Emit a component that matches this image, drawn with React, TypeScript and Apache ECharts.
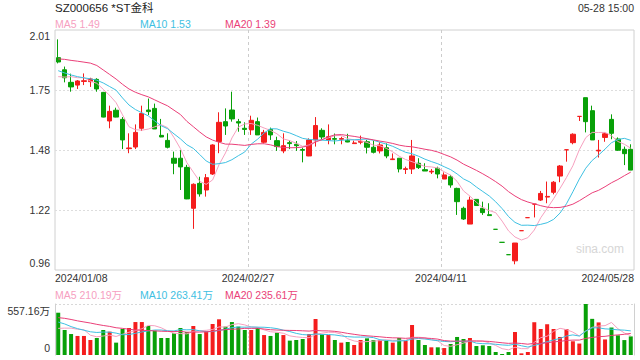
import React, { useEffect, useRef } from 'react';
import * as echarts from 'echarts';

const dates = [
  '2024/01/08','2024/01/09','2024/01/10','2024/01/11','2024/01/12','2024/01/15','2024/01/16','2024/01/17','2024/01/18','2024/01/19',
  '2024/01/22','2024/01/23','2024/01/24','2024/01/25','2024/01/26','2024/01/29','2024/01/30','2024/01/31','2024/02/01','2024/02/02',
  '2024/02/05','2024/02/06','2024/02/07','2024/02/08','2024/02/19','2024/02/20','2024/02/21','2024/02/22','2024/02/23','2024/02/26',
  '2024/02/27','2024/02/28','2024/02/29','2024/03/01','2024/03/04','2024/03/05','2024/03/06','2024/03/07','2024/03/08','2024/03/11',
  '2024/03/12','2024/03/13','2024/03/14','2024/03/15','2024/03/18','2024/03/19','2024/03/20','2024/03/21','2024/03/22','2024/03/25',
  '2024/03/26','2024/03/27','2024/03/28','2024/03/29','2024/04/01','2024/04/02','2024/04/03','2024/04/08','2024/04/09','2024/04/10',
  '2024/04/11','2024/04/12','2024/04/15','2024/04/16','2024/04/17','2024/04/18','2024/04/19','2024/04/22','2024/04/24','2024/04/25',
  '2024/04/26','2024/04/29','2024/04/30','2024/05/06','2024/05/07','2024/05/08','2024/05/09','2024/05/10','2024/05/13','2024/05/14',
  '2024/05/15','2024/05/16','2024/05/17','2024/05/20','2024/05/21','2024/05/22','2024/05/23','2024/05/24','2024/05/27','2024/05/28'
];

const opens = [
  1.889,1.836,1.781,1.769,1.785,1.784,1.794,1.737,1.612,1.659,
  1.619,1.491,1.498,1.580,1.660,1.667,1.549,1.527,1.449,1.449,
  1.409,1.230,1.339,1.310,1.380,1.522,1.609,1.660,1.609,1.580,
  1.573,1.609,1.519,1.575,1.526,1.481,1.517,1.510,1.487,1.459,
  1.529,1.571,1.529,1.535,1.532,1.527,1.513,1.519,1.521,1.497,
  1.481,1.495,1.443,1.449,1.400,1.402,1.427,1.399,1.389,1.405,
  1.358,1.368,1.317,1.230,1.161,1.269,1.230,1.202,1.138,1.081,
  1.027,1.000,1.132,1.189,1.248,1.266,1.279,1.300,1.371,1.486,
  1.517,1.632,1.714,1.657,1.481,1.540,1.619,1.533,1.488,1.488
];
const closes = [
  1.870,1.801,1.761,1.787,1.788,1.796,1.752,1.629,1.654,1.629,
  1.529,1.494,1.562,1.645,1.653,1.577,1.542,1.497,1.427,1.411,
  1.271,1.335,1.293,1.364,1.507,1.606,1.590,1.621,1.603,1.575,
  1.615,1.551,1.562,1.551,1.500,1.504,1.513,1.504,1.484,1.529,
  1.592,1.542,1.543,1.532,1.535,1.520,1.516,1.523,1.497,1.475,
  1.507,1.459,1.446,1.402,1.403,1.459,1.408,1.393,1.392,1.380,
  1.376,1.332,1.259,1.183,1.266,1.242,1.211,1.198,1.138,1.081,
  1.027,1.078,1.132,1.189,1.248,1.295,1.282,1.344,1.415,1.486,
  1.554,1.632,1.609,1.529,1.484,1.556,1.558,1.484,1.469,1.397
];
const lows = [
  1.864,1.781,1.740,1.752,1.769,1.761,1.740,1.628,1.580,1.628,
  1.489,1.471,1.489,1.568,1.638,1.577,1.541,1.492,1.379,1.310,
  1.270,1.140,1.281,1.281,1.376,1.471,1.551,1.609,1.565,1.551,
  1.551,1.551,1.514,1.529,1.481,1.471,1.489,1.481,1.431,1.458,
  1.500,1.529,1.510,1.510,1.510,1.519,1.513,1.510,1.470,1.470,
  1.470,1.449,1.441,1.387,1.380,1.380,1.402,1.393,1.380,1.361,
  1.358,1.320,1.201,1.179,1.161,1.242,1.201,1.198,1.138,1.081,
  1.027,0.985,1.132,1.189,1.190,1.262,1.252,1.291,1.344,1.434,
  1.510,1.612,1.562,1.529,1.452,1.521,1.532,1.481,1.419,1.397
];
const highs = [
  1.969,1.850,1.819,1.791,1.820,1.801,1.799,1.739,1.679,1.670,
  1.629,1.558,1.597,1.679,1.710,1.688,1.621,1.558,1.478,1.485,
  1.420,1.339,1.368,1.380,1.510,1.650,1.667,1.740,1.621,1.606,
  1.635,1.627,1.573,1.583,1.543,1.558,1.527,1.524,1.495,1.536,
  1.629,1.580,1.597,1.557,1.543,1.556,1.526,1.548,1.529,1.526,
  1.519,1.514,1.470,1.449,1.412,1.529,1.449,1.427,1.402,1.412,
  1.387,1.376,1.320,1.237,1.281,1.269,1.259,1.252,1.138,1.081,
  1.027,1.078,1.132,1.189,1.248,1.306,1.347,1.349,1.419,1.486,
  1.558,1.632,1.714,1.679,1.529,1.562,1.641,1.540,1.500,1.510
];
// volume in 万
const volumes = [
  462,273,229,208,208,164,186,273,255,135,
  284,295,360,360,317,266,186,186,237,295,
  251,317,229,258,339,390,310,360,310,273,
  273,299,218,208,244,218,157,164,175,229,
  393,229,218,164,135,142,109,164,182,164,
  164,157,135,186,157,328,164,109,84,84,
  76,120,197,175,186,98,106,98,33,11,
  33,251,18,33,358,284,336,284,197,284.09,
  150,125,557.16,395,356,170,300,215,163,202.95
];
// estimated closes / volumes of the 19 sessions before the first visible day (feed the MA lines)
const priorCloses = [1.84,1.85,1.86,1.87,1.88,1.96,2.02,2.05,2.03,1.99,1.90,1.85,1.86,1.84,1.84,1.811,1.751,1.811,1.787];
const priorVolumes = [420,480,510,450,400,470,520,460,430,420,480,520,430,380,335,260,230,270,233];

const priceTicks = ['0.96', '1.22', '1.48', '1.75', '2.01'];
const maPeriods = [5, 10, 20];
const maColors = ['#f6a0bf', '#3ec0e2', '#ea3f78'];
const RED = '#f41d1d';
const GREEN = '#08a008';
const FONT = '"Liberation Sans", Arial, "Noto Sans CJK SC", sans-serif';

function movingAverage(prior: number[], values: number[], n: number): number[] {
  const all = prior.concat(values);
  const off = prior.length;
  return values.map((_, i) => {
    const end = off + i;
    let s = 0;
    for (let k = end - n + 1; k <= end; k++) s += all[k];
    return s / n;
  });
}

export default function App() {
  const ref = useRef<HTMLDivElement>(null);
  useEffect(() => {
    const chart = echarts.init(ref.current!, null, { renderer: 'svg' });

    const signs = closes.map((c, i) =>
      c > opens[i] ? 1 : c < opens[i] ? -1 : i > 0 ? (closes[i - 1] <= c ? 1 : -1) : 1
    );
    const candleData = opens.map((o, i) => {
      const col = signs[i] > 0 ? RED : GREEN;
      return {
        value: [o, closes[i], lows[i], highs[i]],
        itemStyle: { color: col, color0: col, borderColor: col, borderColor0: col, borderColorDoji: col },
      };
    });
    const volData = volumes.map((v, i) => ({
      value: v,
      itemStyle: { color: signs[i] > 0 ? RED : GREEN },
    }));
    const priceMAs = maPeriods.map((n) => movingAverage(priorCloses, closes, n));
    const volMAs = maPeriods.map((n) => movingAverage(priorVolumes, volumes, n));

    const pMin = parseFloat(priceTicks[0]);
    const pMax = parseFloat(priceTicks[priceTicks.length - 1]);
    const pInt = (pMax - pMin) / (priceTicks.length - 1);
    const vMax = Math.max(...volumes);
    const n = dates.length;

    const labelStyle = { fontFamily: FONT, fontSize: 10.5, color: '#333' };
    const rich = {
      top: { ...labelStyle, padding: [11, 0, 0, 0] },
      bot: { ...labelStyle, padding: [0, 0, 14, 0] },
      mid: { ...labelStyle },
    };

    const legendTexts: any[] = [];
    const legendX = [55, 140, 225];
    maPeriods.forEach((p, k) => {
      const pv = priceMAs[k][n - 1];
      const vv = volMAs[k][n - 1];
      legendTexts.push({
        type: 'text', x: legendX[k], y: 24,
        style: { text: `MA${p} ${pv.toFixed(2)}`, fill: maColors[k], fontSize: 10.5, fontFamily: FONT, verticalAlign: 'middle' },
      });
      legendTexts.push({
        type: 'text', x: legendX[k], y: 294.5,
        style: { text: `MA${p} ${vv.toFixed(2)}万`, fill: maColors[k], fontSize: 10.5, fontFamily: FONT, verticalAlign: 'middle' },
      });
    });

    const option: any = {
      animation: false,
      grid: [
        { left: 55, top: 30, width: 579, height: 240, show: true, borderColor: '#d0d0d0', borderWidth: 1, backgroundColor: 'transparent' },
        { left: 55, top: 304, width: 579, height: 51 },
      ],
      xAxis: [
        { type: 'category', gridIndex: 0, position: 'top', data: dates, boundaryGap: true, show: false },
        {
          type: 'value', gridIndex: 0, position: 'bottom', min: 0, max: n, interval: 30,
          axisLine: { show: false }, axisTick: { show: false },
          splitLine: { show: true, showMinLine: false, showMaxLine: false, lineStyle: { color: '#cccccc', type: [3, 3], width: 1 } },
          axisLabel: {
            margin: 3, fontFamily: FONT, fontSize: 10.5, color: '#333',
            alignMinLabel: 'left', alignMaxLabel: 'right',
            formatter: (v: number) => dates[Math.min(Math.round(v), n - 1)],
          },
        },
        { type: 'category', gridIndex: 1, position: 'top', data: dates, boundaryGap: true, show: false },
        {
          type: 'value', gridIndex: 1, position: 'bottom', min: 0, max: n, interval: 30,
          axisLine: { show: false }, axisTick: { show: false }, axisLabel: { show: false },
          splitLine: { show: true, showMinLine: false, showMaxLine: false, lineStyle: { color: '#d8d8d8', type: [2, 2], width: 1 } },
        },
      ],
      yAxis: [
        {
          type: 'value', gridIndex: 0, min: pMin, max: pMax, interval: pInt, scale: true,
          axisLine: { show: false }, axisTick: { show: false },
          splitLine: { show: true, showMinLine: false, showMaxLine: false, lineStyle: { color: '#dddddd', type: [2, 2], width: 1 } },
          axisLabel: {
            margin: 5,
            formatter: (v: number) => {
              const idx = Math.round((v - pMin) / pInt);
              const t = priceTicks[idx] ?? '';
              return idx === priceTicks.length - 1 ? `{top|${t}}` : idx === 0 ? `{bot|${t}}` : `{mid|${t}}`;
            },
            rich,
          },
        },
        {
          type: 'value', gridIndex: 1, min: 0, max: vMax, interval: vMax,
          axisLine: { show: true, lineStyle: { color: '#d0d0d0' } }, axisTick: { show: false },
          splitLine: { show: true, showMinLine: false, lineStyle: { color: '#d8d8d8', type: [2, 2], width: 1 } },
          axisLabel: {
            margin: 5,
            formatter: (v: number) => (v === 0 ? '{bot|0}' : `{top|${v.toFixed(2)}万}`),
            rich: {
              top: { ...labelStyle, padding: [14, 0, 0, 0] },
              bot: { ...labelStyle, padding: [0, 0, 14, 0] },
            },
          },
        },
        {
          type: 'value', gridIndex: 1, position: 'right', min: 0, max: vMax, interval: vMax,
          axisLine: { show: true, lineStyle: { color: '#d0d0d0' } }, axisTick: { show: false },
          axisLabel: { show: false }, splitLine: { show: false },
        },
      ],
      series: [
        {
          type: 'candlestick', xAxisIndex: 0, yAxisIndex: 0, data: candleData, barWidth: '74%',
          itemStyle: { borderWidth: 1 }, silent: true,
        },
        ...maPeriods.map((p, k) => ({
          type: 'line', name: `MA${p}`, xAxisIndex: 0, yAxisIndex: 0,
          data: priceMAs[k].map((v) => +v.toFixed(4)),
          showSymbol: false, symbol: 'none', silent: true,
          lineStyle: { color: maColors[k], width: 1 },
        })),
        {
          type: 'bar', xAxisIndex: 2, yAxisIndex: 1, data: volData, barWidth: '62%', silent: true,
        },
        ...maPeriods.map((p, k) => ({
          type: 'line', name: `VMA${p}`, xAxisIndex: 2, yAxisIndex: 1,
          data: volMAs[k].map((v) => +v.toFixed(2)),
          showSymbol: false, symbol: 'none', silent: true,
          lineStyle: { color: maColors[k], width: 1 },
        })),
      ],
      graphic: [
        {
          type: 'text', x: 55, y: 8,
          style: { text: 'SZ000656 *ST金科', fill: '#222', fontSize: 11.5, fontFamily: FONT, verticalAlign: 'middle' },
        },
        {
          type: 'text', x: 634, y: 8,
          style: { text: '05-28 15:00', fill: '#333', fontSize: 10.5, fontFamily: FONT, align: 'right', verticalAlign: 'middle' },
        },
        {
          type: 'text', x: 624, y: 249,
          style: { text: 'sina.com', fill: '#d6d6d6', fontSize: 12, fontFamily: FONT, align: 'right', verticalAlign: 'middle' },
        },
        ...legendTexts,
      ],
    };
    chart.setOption(option);
    return () => chart.dispose();
  }, []);
  return <div ref={ref} style={{ position: 'fixed', left: 0, top: 0, width: 640, height: 360, background: '#fff' }} />;
}
